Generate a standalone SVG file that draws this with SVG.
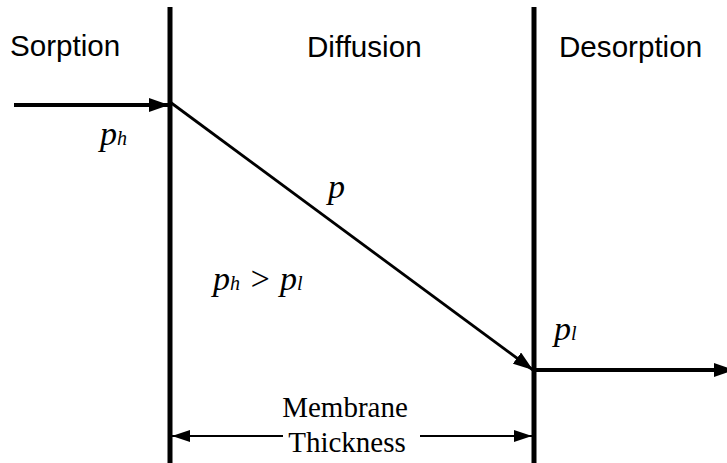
<svg xmlns="http://www.w3.org/2000/svg" width="727" height="463" viewBox="0 0 727 463">
<style>
.sans{font-family:"Liberation Sans",Arial,sans-serif;font-size:29.6px;fill:#000}
.serif{font-family:"Liberation Serif","Times New Roman",serif;font-size:29px;fill:#000}
.it{font-family:"Liberation Serif","Times New Roman",serif;font-style:italic;font-size:34px;fill:#000}
.sub{font-size:20px}
.wall{stroke:#000;stroke-width:5}
</style>
<defs>
<marker id="ahBig" viewBox="0 0 10 10" refX="10" refY="5" markerWidth="20" markerHeight="14" markerUnits="userSpaceOnUse" orient="auto-start-reverse" preserveAspectRatio="none">
<path d="M0,0 L10,5 L0,10 z" fill="#000"/>
</marker>
<marker id="ahSm" viewBox="0 0 10 10" refX="10" refY="5" markerWidth="18" markerHeight="12" markerUnits="userSpaceOnUse" orient="auto-start-reverse" preserveAspectRatio="none">
<path d="M0,0 L10,5 L0,10 z" fill="#000"/>
</marker>
</defs>
<rect width="727" height="463" fill="#fff"/>
<g id="walls">
<line class="wall" x1="170" y1="7" x2="170" y2="463"/>
<line class="wall" x1="534" y1="7" x2="534" y2="463"/>
</g>
<g id="labels">
<text class="sans" x="10" y="56">Sorption</text>
<text class="sans" x="307" y="57">Diffusion</text>
<text class="sans" x="559" y="57">Desorption</text>
<text class="it" x="100" y="145">p<tspan class="sub">h</tspan></text>
<text class="it" x="328" y="198">p</text>
<text class="it" x="213" y="290">p<tspan class="sub">h</tspan> &gt; p<tspan class="sub">l</tspan></text>
<text class="it" x="554" y="340">p<tspan class="sub">l</tspan></text>
<text class="serif" x="345" y="417" text-anchor="middle">Membrane</text>
<text class="serif" x="347" y="452" text-anchor="middle">Thickness</text>
</g>
<g id="connectors" fill="none" stroke="#000">
<line x1="14" y1="105" x2="169" y2="105" stroke-width="4" marker-end="url(#ahBig)"/>
<line x1="170" y1="102" x2="533" y2="370" stroke-width="2.8" marker-end="url(#ahBig)"/>
<line x1="534" y1="370" x2="734" y2="370" stroke-width="4" marker-end="url(#ahBig)"/>
<line x1="172" y1="436" x2="283" y2="436" stroke-width="2" marker-start="url(#ahSm)"/>
<line x1="420" y1="436" x2="532" y2="436" stroke-width="2" marker-end="url(#ahSm)"/>
</g>
</svg>
